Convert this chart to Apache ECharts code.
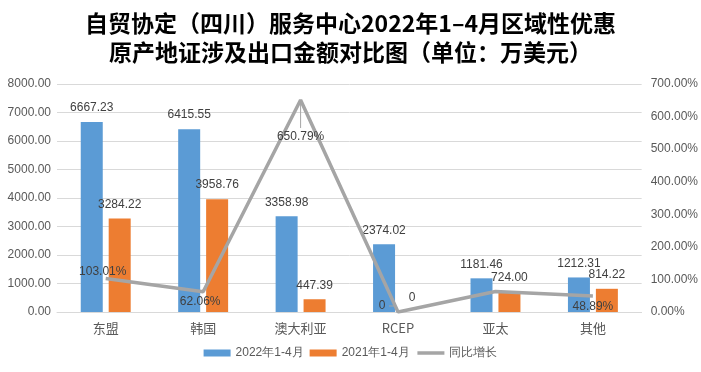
<!DOCTYPE html>
<html><head><meta charset="utf-8">
<script src="https://cdn.jsdelivr.net/npm/echarts@6/dist/echarts.min.js"></script>
<style>html,body{margin:0;padding:0;background:#fff}#c{width:701px;height:372px}</style>
</head><body><div id="c"></div>
<script>
var categories = ['东盟', '韩国', '澳大利亚', 'RCEP', '亚太', '其他'];
var amount2022 = [6667.23, 6415.55, 3358.98, 2374.02, 1181.46, 1212.31];
var amount2021 = [3284.22, 3958.76, 447.39, 0, 724.00, 814.22];
var growth = [103.01, 62.06, 650.79, 0, 63.19, 48.89];
var leftTicks = [0, 8000, 1000];
var rightTicks = [0, 700, 100];
var seriesNames = ['2022年1-4月', '2021年1-4月', '同比增长'];
var titleText = '自贸协定（四川）服务中心2022年1–4月区域性优惠\n原产地证涉及出口金额对比图（单位：万美元）';

var labelMoves = [[-3,-7],[-3,10],[0,37],[-16,-6],null,[0,11]];

var chart = echarts.init(document.getElementById('c'));
var labelStyle = {show:true, position:'top', distance:8, color:'#404040', fontSize:12, fontFamily:'Liberation Sans'};
chart.setOption({
  animation:false,
  title:{text:titleText, left:'center', top:4,
    textStyle:{fontSize:23, fontWeight:'bold', color:'#000', lineHeight:29, fontFamily:'Noto Sans CJK SC'}},
  grid:{left:57, right:58, top:84, bottom:60},
  legend:{bottom:8, left:'center', itemWidth:27, itemHeight:7, itemGap:6,
    textStyle:{color:'#595959', fontSize:12, fontFamily:'Liberation Sans'},
    data:[{name:seriesNames[0], icon:'rect'},{name:seriesNames[1], icon:'rect'},
          {name:seriesNames[2], itemStyle:{opacity:0}, lineStyle:{width:3.5, color:'#a5a5a5'}}]},
  xAxis:{type:'category', data:categories,
    axisLine:{lineStyle:{color:'#d9d9d9'}}, axisTick:{show:false},
    axisLabel:{color:'#595959', fontSize:13, margin:10, fontFamily:'Noto Sans CJK SC'}},
  yAxis:[
    {type:'value', min:leftTicks[0], max:leftTicks[1], interval:leftTicks[2],
     axisLabel:{color:'#595959', fontSize:12, margin:6, fontFamily:'Liberation Sans', formatter:function(v){return v.toFixed(2);}},
     splitLine:{lineStyle:{color:'#d9d9d9'}}, axisLine:{show:false}, axisTick:{show:false}},
    {type:'value', min:rightTicks[0], max:rightTicks[1], interval:rightTicks[2],
     axisLabel:{color:'#595959', fontSize:12, margin:9, fontFamily:'Liberation Sans', formatter:function(v){return v.toFixed(2)+'%';}},
     splitLine:{show:false}, axisLine:{show:false}, axisTick:{show:false}}
  ],
  series:[
    {name:seriesNames[0], type:'bar', data:amount2022, barWidth:22, barGap:'27%', itemStyle:{color:'#5b9bd5'},
     label:Object.assign({}, labelStyle, {formatter:function(p){return p.value.toFixed(2);}})},
    {name:seriesNames[1], type:'bar', data:amount2021, barWidth:22, itemStyle:{color:'#ed7d31'},
     label:Object.assign({}, labelStyle, {formatter:function(p){return p.value===0?'0':p.value.toFixed(2);}})},
    {name:seriesNames[2], type:'line', yAxisIndex:1, symbol:'circle', symbolSize:0.01, showSymbol:true, z:5,
     lineStyle:{color:'#a5a5a5', width:3.5}, itemStyle:{color:'#a5a5a5'},
     data:growth.map(function(v,i){
       return {value:v, label:{show: labelMoves[i]!==null}};
     }),
     label:{show:true, position:'inside', color:'#404040', fontSize:12, fontFamily:'Liberation Sans',
       formatter:function(p){return p.value===0?'0':p.value.toFixed(2)+'%';}},
     labelLayout:function(p){
       var m = labelMoves[p.dataIndex] || [0,0];
       return {dx:m[0], dy:m[1]};
     }}
  ]
});
// leader lines from points to moved labels (positions derived from the chart's scales)
var pPeak = chart.convertToPixel({xAxisIndex:0, yAxisIndex:1}, [2, growth[2]]);
var pZero = chart.convertToPixel({xAxisIndex:0, yAxisIndex:1}, [3, growth[3]]);
chart.setOption({graphic:[
  {type:'line', z:10, shape:{x1:pPeak[0], y1:pPeak[1]+2, x2:pPeak[0], y2:pPeak[1]+28}, style:{stroke:'#a5a5a5', lineWidth:1}},
  {type:'line', z:10, shape:{x1:pZero[0]-9, y1:pZero[1]-6, x2:pZero[0]-2, y2:pZero[1]-6}, style:{stroke:'#a5a5a5', lineWidth:1}}
]});
</script></body></html>
